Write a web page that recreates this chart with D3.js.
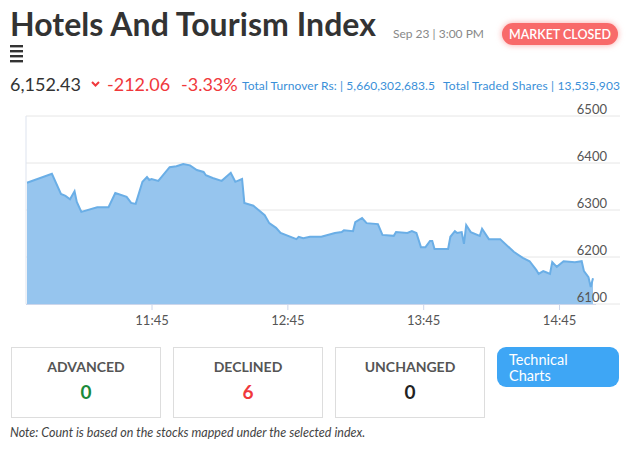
<!DOCTYPE html>
<html><head><meta charset="utf-8">
<script src="https://cdn.jsdelivr.net/npm/d3@7"></script>
<style>
body{margin:0;background:#fff;font-family:Lato,"Open Sans",sans-serif;}
</style></head>
<body><svg id="c" width="632" height="450"></svg>
<script>
const times = ["10:50","11:01","11:05","11:07","11:09","11:11","11:12","11:14","11:21","11:26","11:29","11:34","11:36","11:38","11:41","11:43","11:44","11:45","11:48","11:53","11:56","11:59","12:02","12:05","12:08","12:09","12:12","12:16","12:20","12:22","12:25","12:26","12:30","12:35","12:37","12:40","12:42","12:49","12:50","12:52","12:55","13:00","13:06","13:09","13:10","13:14","13:15","13:18","13:20","13:25","13:27","13:32","13:33","13:38","13:40","13:42","13:44","13:46","13:48","13:49","13:50","13:56","13:57","13:59","14:00","14:02","14:03","14:04","14:06","14:10","14:11","14:14","14:19","14:25","14:29","14:32","14:35","14:36","14:38","14:39","14:41","14:42","14:44","14:47","14:52","14:55","14:56","14:58","14:59","15:00"];
const values = [6358,6377,6334,6330,6323,6340,6317,6296,6306,6306,6336,6328,6315,6313,6360,6370,6364,6366,6362,6391,6393,6398,6395,6385,6381,6374,6368,6362,6379,6360,6366,6315,6309,6289,6272,6262,6251,6238,6243,6240,6243,6243,6251,6253,6257,6255,6274,6283,6272,6270,6247,6245,6253,6251,6255,6251,6221,6221,6234,6234,6217,6217,6243,6255,6251,6253,6228,6268,6253,6245,6260,6238,6238,6211,6198,6191,6172,6164,6170,6168,6164,6189,6179,6191,6189,6191,6170,6157,6136,6155];
const yTicks = [6100,6200,6300,6400,6500];
const xTicks = ["11:45","12:45","13:45","14:45"];
const stats = [{label:"ADVANCED",value:0,color:"#1a8a3a"},{label:"DECLINED",value:6,color:"#f0383c"},{label:"UNCHANGED",value:0,color:"#222"}];

const parse = d3.timeParse("%H:%M");
const data = times.map((t,i)=>({t:parse(t),v:values[i]}));
const svg = d3.select("#c");

// header
svg.append("text").attr("x",10).attr("y",36).attr("font-size",32).attr("font-weight",700).attr("fill","#333")
  .attr("textLength",366).text("Hotels And Tourism Index");
svg.append("text").attr("x",393).attr("y",38).attr("font-size",12).attr("fill","#888").text("Sep 23 | 3:00 PM");
svg.append("rect").attr("x",502).attr("y",23).attr("width",116).attr("height",22).attr("rx",11).attr("fill","#f86a6a")
  .style("filter","drop-shadow(0 0 3px rgba(248,106,106,0.6))");
svg.append("text").attr("x",560).attr("y",38.5).attr("text-anchor","middle").attr("font-size",12.5).attr("font-weight",600).attr("fill","#fff").text("MARKET CLOSED");
[45,50,55,60].forEach(y=>svg.append("rect").attr("x",10).attr("y",y).attr("width",13).attr("height",2.4).attr("fill","#333"));
svg.append("text").attr("x",10).attr("y",91).attr("font-size",18).attr("fill","#333").text("6,152.43");
svg.append("path").attr("d","M92,82 l3.5,3.5 l3.5,-3.5").attr("stroke","#f0383c").attr("stroke-width",2).attr("fill","none");
svg.append("text").attr("x",107).attr("y",91).attr("font-size",18).attr("fill","#f0383c").text("-212.06");
svg.append("text").attr("x",181).attr("y",91).attr("font-size",18).attr("fill","#f0383c").text("-3.33%");
svg.append("text").attr("x",242).attr("y",90).attr("font-size",12).attr("fill","#3a8fd8").attr("textLength",193).text("Total Turnover Rs: | 5,660,302,683.5");
svg.append("text").attr("x",443).attr("y",90).attr("font-size",12).attr("fill","#3a8fd8").attr("textLength",177).text("Total Traded Shares | 13,535,903");

// chart
const x = d3.scaleTime().domain([parse("10:50"),parse("15:00")]).range([27,593]);
const y = d3.scaleLinear().domain([6100,6500]).range([304,116]);
const g = svg.append("g");
g.selectAll(".grid").data(yTicks).join("line").attr("x1",26).attr("x2",620)
  .attr("y1",d=>y(d)).attr("y2",d=>y(d)).attr("stroke","#e6e6e6");
g.append("path").datum(data).attr("fill","#96c5ee")
  .attr("d",d3.area().x(d=>x(d.t)).y0(y(6100)).y1(d=>y(d.v)));
g.append("path").datum(data).attr("fill","none").attr("stroke","#6aaee6").attr("stroke-width",2)
  .attr("d",d3.line().x(d=>x(d.t)).y(d=>y(d.v)));
g.append("line").attr("x1",26).attr("x2",26).attr("y1",116).attr("y2",304).attr("stroke","#dde3ee");
g.selectAll(".yl").data(yTicks).join("text").attr("x",607).attr("y",d=>y(d)-2).attr("text-anchor","end")
  .attr("font-size",13).attr("fill","#555").text(d=>d);
const xa = g.append("g").attr("transform","translate(0,304)")
  .call(d3.axisBottom(x).tickValues(xTicks.map(parse)).tickFormat(d3.timeFormat("%H:%M")).tickSize(6).tickPadding(6));
xa.select(".domain").attr("d","M26,0.5H596").attr("stroke","#ccd6eb");
xa.selectAll(".tick line").attr("stroke","#ccd6eb");
xa.selectAll("text").attr("font-size",13).attr("fill","#555").attr("font-family","Lato");

// stat boxes
stats.forEach((s,i)=>{
  const bx = 11+i*162;
  svg.append("rect").attr("x",bx+0.5).attr("y",347.5).attr("width",149).attr("height",70).attr("fill","#fff").attr("stroke","#ddd");
  svg.append("text").attr("x",bx+75).attr("y",372).attr("text-anchor","middle").attr("font-size",14).attr("font-weight",700).attr("fill","#555").text(s.label);
  svg.append("text").attr("x",bx+75).attr("y",399).attr("text-anchor","middle").attr("font-size",19).attr("font-weight",700).attr("fill",s.color).text(s.value);
});
svg.append("rect").attr("x",497).attr("y",347).attr("width",122).attr("height",40).attr("rx",9).attr("fill","#3ea6f5");
svg.append("text").attr("x",509).attr("y",365).attr("font-size",14.5).attr("fill","#fff").text("Technical");
svg.append("text").attr("x",509).attr("y",381).attr("font-size",14.5).attr("fill","#fff").text("Charts");
svg.append("text").attr("x",10).attr("y",437).attr("font-size",12.5).attr("font-style","italic").attr("fill","#444")
  .text("Note: Count is based on the stocks mapped under the selected index.");
</script></body></html>
